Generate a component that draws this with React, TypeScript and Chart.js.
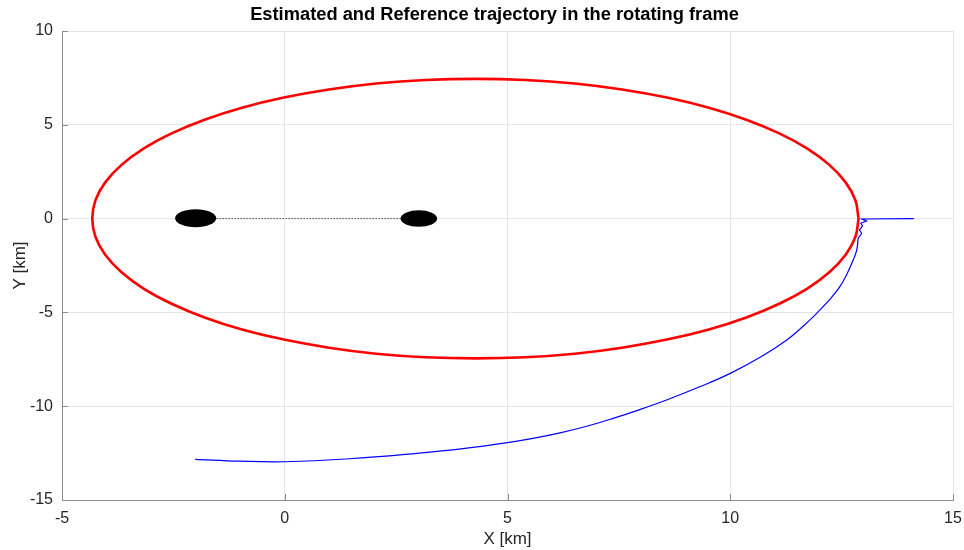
import React, { useEffect, useRef } from "react";
import { Chart, registerables } from "chart.js";

Chart.register(...registerables);

// Reference trajectory (red)
const refX = [12.88, 12.81, 12.59, 12.23, 11.73, 11.1, 10.36, 9.52, 8.58, 7.57, 6.51, 5.4, 4.28, 3.16, 2.05, 0.99, -0.02, -0.96, -1.8, -2.54, -3.17, -3.67, -4.03, -4.25, -4.32, -4.25, -4.03, -3.67, -3.17, -2.54, -1.8, -0.96, -0.02, 0.99, 2.05, 3.16, 4.28, 5.4, 6.51, 7.57, 8.58, 9.52, 10.36, 11.1, 11.73, 12.23, 12.59, 12.81, 12.88];
const refY = [0, 0.97, 1.93, 2.85, 3.73, 4.54, 5.27, 5.91, 6.45, 6.88, 7.2, 7.39, 7.45, 7.39, 7.2, 6.88, 6.45, 5.91, 5.27, 4.54, 3.73, 2.85, 1.93, 0.97, 0, -0.97, -1.93, -2.85, -3.73, -4.54, -5.27, -5.91, -6.45, -6.88, -7.2, -7.39, -7.45, -7.39, -7.2, -6.88, -6.45, -5.91, -5.27, -4.54, -3.73, -2.85, -1.93, -0.97, 0];

// Estimated trajectory (blue)
const estX = [14.12, 12.95, 13.06, 12.93, 12.97, 12.9, 12.95, 12.87, 12.84, 12.76, 12.62, 12.46, 12.22, 11.94, 11.63, 11.27, 10.7, 10.0, 9.3, 8.57, 7.97, 7.37, 6.78, 6.18, 5.6, 5.0, 4.0, 2.96, 1.46, 0.0, -1.0, -2.01];
const estY = [0.0, -0.02, -0.13, -0.25, -0.38, -0.61, -0.78, -1.05, -1.67, -2.21, -2.95, -3.63, -4.35, -5.05, -5.75, -6.47, -7.35, -8.25, -8.98, -9.67, -10.18, -10.65, -11.07, -11.42, -11.7, -11.94, -12.26, -12.51, -12.8, -12.96, -12.93, -12.83];
// index where the jittery start ends and the smooth arc begins
const estSmoothFrom = 7;

// Dotted link between primaries
const linkX = [-2, 3];
const linkY = [0, 0];

// Primary bodies (filled ellipses)
const bodyX = [-2.0, 3.01];
const bodyY = [0.02, 0.0];
const bodyRx = [0.46, 0.41];
const bodyRy = [0.48, 0.44];

// Axis ticks
const xTicks = [-5, 0, 5, 10, 15];
const yTicks = [10, 5, 0, -5, -10, -15];

const TITLE = "Estimated and Reference trajectory in the rotating frame";

const toPts = (xs: number[], ys: number[]) => xs.map((x, i) => ({ x, y: ys[i] }));

const FONT = "'Liberation Sans', Arial, Helvetica, sans-serif";
const AXIS_COLOR = "#8c8c8c";

const bodiesPlugin = {
  id: "bodies",
  afterDatasetsDraw(chart: any) {
    const { ctx, scales } = chart;
    const xs = scales.x;
    const ys = scales.y;
    ctx.save();
    ctx.fillStyle = "#000000";
    for (let i = 0; i < bodyX.length; i++) {
      const cx = xs.getPixelForValue(bodyX[i]);
      const cy = ys.getPixelForValue(bodyY[i]);
      const rx = Math.abs(xs.getPixelForValue(bodyX[i] + bodyRx[i]) - cx);
      const ry = Math.abs(ys.getPixelForValue(bodyY[i] + bodyRy[i]) - cy);
      ctx.beginPath();
      ctx.ellipse(cx, cy, rx, ry, 0, 0, Math.PI * 2);
      ctx.fill();
    }
    ctx.restore();
  },
};

const inwardTicksPlugin = {
  id: "inwardTicks",
  afterDraw(chart: any) {
    const { ctx, scales, chartArea } = chart;
    ctx.save();
    ctx.strokeStyle = AXIS_COLOR;
    ctx.lineWidth = 1;
    ctx.beginPath();
    xTicks.forEach((v) => {
      const px = Math.round(scales.x.getPixelForValue(v)) + 0.5;
      ctx.moveTo(px, chartArea.bottom);
      ctx.lineTo(px, chartArea.bottom - 6);
    });
    yTicks.forEach((v) => {
      const py = Math.round(scales.y.getPixelForValue(v)) + 0.5;
      ctx.moveTo(chartArea.left, py);
      ctx.lineTo(chartArea.left + 6, py);
    });
    ctx.stroke();
    ctx.restore();
  },
};

const titlePlugin = {
  id: "mtitle",
  afterDraw(chart: any) {
    const { ctx, chartArea } = chart;
    ctx.save();
    ctx.fillStyle = "#000000";
    ctx.font = `bold 18.3px ${FONT}`;
    ctx.textAlign = "center";
    ctx.textBaseline = "middle";
    ctx.fillText(TITLE, (chartArea.left + chartArea.right) / 2 - 13, 14.5);
    ctx.restore();
  },
};

export default function App() {
  const ref = useRef<HTMLCanvasElement | null>(null);

  useEffect(() => {
    if (!ref.current) return;
    const chart = new Chart(ref.current, {
      type: "scatter",
      data: {
        datasets: [
          {
            data: toPts(linkX, linkY),
            showLine: true,
            borderColor: "#000000",
            borderWidth: 1,
            borderDash: [1, 2],
            pointRadius: 0,
          },
          {
            data: toPts(refX, refY),
            showLine: true,
            borderColor: "#ff0000",
            borderWidth: 2.6,
            pointRadius: 0,
            tension: 0.35,
          },
          {
            data: toPts(estX.slice(0, estSmoothFrom + 1), estY.slice(0, estSmoothFrom + 1)),
            showLine: true,
            borderColor: "#0000ff",
            borderWidth: 1.2,
            pointRadius: 0,
            tension: 0,
          },
          {
            data: toPts(estX.slice(estSmoothFrom), estY.slice(estSmoothFrom)),
            showLine: true,
            borderColor: "#0000ff",
            borderWidth: 1.2,
            pointRadius: 0,
            tension: 0.4,
          },
        ],
      },
      options: {
        responsive: false,
        animation: false,
        devicePixelRatio: 1,
        layout: { padding: { left: 0, right: 11, top: 31, bottom: 0 } },
        plugins: {
          legend: { display: false },
          tooltip: { enabled: false },
          title: { display: false },
        },
        scales: {
          x: {
            type: "linear",
            min: -5,
            max: 15,
            afterFit: (s: any) => {
              s.height = 50;
              s.paddingLeft = 0;
              s.paddingRight = 0;
            },
            afterBuildTicks: (s: any) => {
              s.ticks = xTicks.map((v) => ({ value: v }));
            },
            ticks: {
              color: "#262626",
              font: { family: FONT, size: 16 },
              padding: 9,
              maxRotation: 0,
            },
            grid: { color: "#e6e6e6", drawTicks: false, lineWidth: 1 },
            border: { display: true, color: AXIS_COLOR, width: 1 },
            title: {
              display: true,
              text: "X [km]",
              color: "#262626",
              font: { family: FONT, size: 17, lineHeight: 1.2 },
              padding: { top: 0, bottom: 0 },
            },
          },
          y: {
            type: "linear",
            min: -15,
            max: 10,
            afterFit: (s: any) => {
              s.width = 62;
              s.paddingTop = 0;
              s.paddingBottom = 0;
            },
            afterBuildTicks: (s: any) => {
              s.ticks = yTicks.map((v) => ({ value: v }));
            },
            ticks: {
              color: "#262626",
              font: { family: FONT, size: 16 },
              padding: 9,
            },
            grid: { color: "#e6e6e6", drawTicks: false, lineWidth: 1 },
            border: { display: true, color: AXIS_COLOR, width: 1 },
            title: {
              display: true,
              text: "Y [km]",
              color: "#262626",
              font: { family: FONT, size: 17, lineHeight: 1.2 },
              padding: { top: 9.8, bottom: 0 },
            },
          },
        },
      },
      plugins: [bodiesPlugin, inwardTicksPlugin, titlePlugin],
    });
    return () => chart.destroy();
  }, []);

  return (
    <div style={{ position: "fixed", left: 0, top: 0, width: 964, height: 550, background: "#ffffff" }}>
      <canvas ref={ref} width={964} height={550} style={{ display: "block", width: 964, height: 550 }} />
    </div>
  );
}
